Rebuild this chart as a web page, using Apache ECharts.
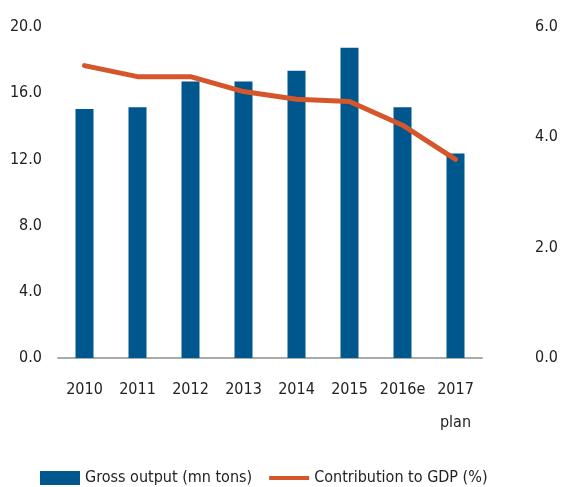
<!DOCTYPE html>
<html lang="en">
  <head>
    <meta charset="UTF-8" />
    <title>Gross output and contribution to GDP</title>
    <script src="https://cdn.jsdelivr.net/npm/echarts@6/dist/echarts.min.js"></script>
  </head>
  <body style="margin: 0">
    <div id="main" style="width: 563px; height: 487px"></div>

    <script>
      const years = ["2010", "2011", "2012", "2013", "2014", "2015", "2016e", "2017\nplan"];
      const grossOutput = [15.05, 15.15, 16.7, 16.7, 17.35, 18.75, 15.15, 12.35];
      const gdpShare = [5.3, 5.1, 5.1, 4.83, 4.69, 4.65, 4.22, 3.6];

      const font = "'DejaVu Sans Condensed', 'Liberation Sans Narrow', sans-serif";
      const myChart = echarts.init(document.getElementById("main"));

      myChart.setOption({
        textStyle: { fontFamily: font },
        grid: { left: 58, right: 81, top: 27, bottom: 129 },
        legend: {
          left: 40,
          top: 470,
          padding: 0,
          itemGap: 17,
          itemWidth: 40,
          itemHeight: 14,
          textStyle: { fontFamily: font, fontSize: 16, color: "#222" },
          data: [
            { name: "Gross output (mn tons)", icon: "rect" },
            { name: "Contribution to GDP (%)", icon: "path://M0,0 L40,0 L40,4 L0,4 Z" },
          ],
        },
        xAxis: {
          type: "category",
          data: years,
          axisTick: { show: false },
          axisLine: { lineStyle: { color: "#aaaaaa", width: 2 } },
          axisLabel: {
            margin: 15,
            fontFamily: font,
            fontSize: 16,
            lineHeight: 33,
            color: "#222",
            interval: 0,
          },
        },
        yAxis: [
          {
            type: "value",
            min: 0,
            max: 20,
            interval: 4,
            splitLine: { show: false },
            axisLabel: {
              margin: 16,
              fontFamily: font,
              fontSize: 16,
              color: "#222",
              formatter: (v) => v.toFixed(1),
            },
          },
          {
            type: "value",
            min: 0,
            max: 6,
            interval: 2,
            splitLine: { show: false },
            axisLabel: {
              margin: 53,
              fontFamily: font,
              fontSize: 16,
              color: "#222",
              formatter: (v) => v.toFixed(1),
            },
          },
        ],
        series: [
          {
            name: "Gross output (mn tons)",
            type: "bar",
            data: grossOutput,
            barWidth: 18,
            itemStyle: { color: "#00578e" },
          },
          {
            name: "Contribution to GDP (%)",
            type: "line",
            yAxisIndex: 1,
            data: gdpShare,
            symbol: "none",
            lineStyle: { color: "#d4562a", width: 5, cap: "round", join: "round" },
            itemStyle: { color: "#d4562a" },
          },
        ],
      });
    </script>
  </body>
</html>
